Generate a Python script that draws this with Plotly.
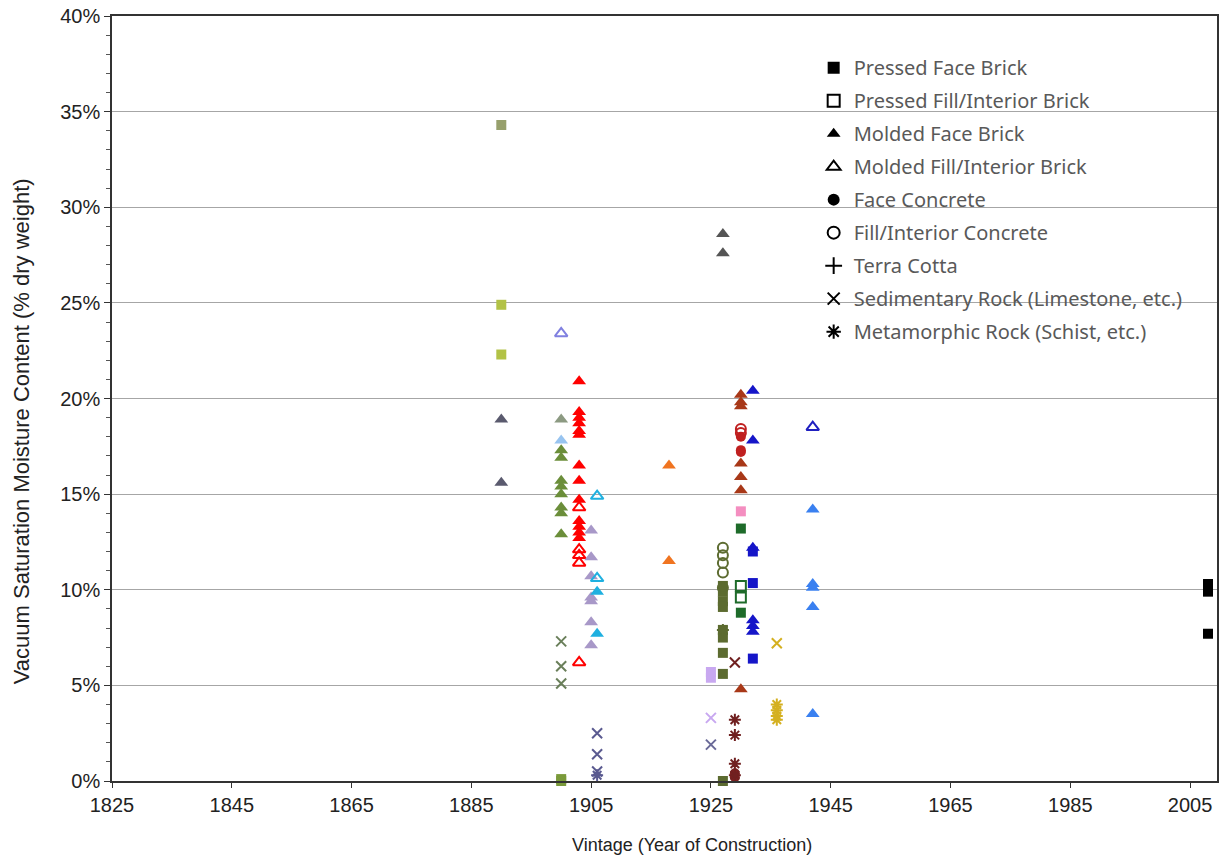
import plotly.graph_objects as go

# ---------------- data (year, value %, colour per point) ----------------
pressed_face_year = [1890, 1890, 1890, 1900, 1900,
                     1927, 1927, 1927, 1927, 1927, 1927, 1927, 1927, 1927,
                     1925, 1925, 1930, 1930, 1930, 1932, 1932, 1932, 2008, 2008, 2008]
pressed_face_val = [34.3, 24.9, 22.3, 0.0, 0.1,
                    10.2, 9.9, 9.4, 9.1, 7.9, 7.5, 6.7, 5.6, 0.0,
                    5.4, 5.7, 14.1, 13.2, 8.8, 12.0, 10.35, 6.4, 10.3, 9.9, 7.7]
pressed_face_color = ["#97a06c", "#b2c246", "#b2c246", "#7a9a3a", "#7a9a3a",
                      "#5c6b30", "#5c6b30", "#5c6b30", "#5c6b30", "#5c6b30", "#5c6b30", "#5c6b30", "#5c6b30", "#5c6b30",
                      "#c8a8f0", "#c8a8f0", "#f48ec0", "#1e6b2a", "#1e6b2a", "#1515c8", "#1515c8", "#1515c8",
                      "#000000", "#000000", "#000000"]

pressed_fill_year = [1930, 1930]
pressed_fill_val = [10.2, 9.6]
pressed_fill_color = ["#1e6b2a", "#1e6b2a"]

molded_face_year = [1890, 1890,
                    1900, 1900, 1900, 1900, 1900, 1900, 1900, 1900, 1900, 1900,
                    1903, 1903, 1903, 1903, 1903, 1903, 1903, 1903, 1903, 1903, 1903, 1903, 1903,
                    1905, 1905, 1905, 1905, 1905, 1905, 1905,
                    1906, 1906, 1918, 1918, 1927, 1927,
                    1930, 1930, 1930, 1930, 1930, 1930, 1930,
                    1932, 1932, 1932, 1932, 1932, 1932,
                    1942, 1942, 1942, 1942, 1942]
molded_face_val = [18.9, 15.6,
                   18.9, 17.8, 17.3, 16.9, 15.7, 15.4, 15.0, 14.3, 14.0, 12.9,
                   20.9, 19.3, 19.0, 18.7, 18.3, 18.1, 16.5, 15.7, 14.7, 13.6, 13.3, 13.0, 12.7,
                   13.1, 11.7, 10.7, 9.6, 9.4, 8.3, 7.1,
                   9.9, 7.7, 16.5, 11.5, 28.6, 27.6,
                   20.2, 19.8, 19.6, 16.6, 15.9, 15.2, 4.8,
                   20.4, 17.8, 12.2, 8.4, 8.1, 7.8,
                   14.2, 10.3, 10.1, 9.1, 3.5]
molded_face_color = (["#5a5a6e"] * 2
                     + ["#8c9a82", "#98c4f0"] + ["#6b8e3a"] * 8
                     + ["#ff0000"] * 13
                     + ["#a898c8"] * 7
                     + ["#1fb0e0"] * 2 + ["#f07420"] * 2 + ["#555555"] * 2
                     + ["#a83818"] * 7
                     + ["#1515c8"] * 6
                     + ["#3a80f0"] * 5)

molded_fill_year = [1900, 1903, 1903, 1903, 1903, 1903, 1906, 1906, 1942]
molded_fill_val = [23.4, 14.3, 12.1, 11.8, 11.4, 6.2, 14.9, 10.6, 18.5]
molded_fill_color = ["#8080e0", "#ff0000", "#ff0000", "#ff0000", "#ff0000", "#ff0000",
                     "#1fb0e0", "#1fb0e0", "#2020c0"]

face_concrete_year = [1930, 1930, 1930, 1929, 1929]
face_concrete_val = [18.0, 17.3, 17.2, 0.4, 0.2]
face_concrete_color = ["#c02020", "#c02020", "#c02020", "#7a2020", "#7a2020"]

fill_concrete_year = [1927, 1927, 1927, 1927, 1927, 1930, 1930]
fill_concrete_val = [12.2, 11.8, 11.4, 10.9, 10.1, 18.4, 18.2]
fill_concrete_color = ["#5c6b30"] * 5 + ["#c02020"] * 2

terra_cotta_year = []
terra_cotta_val = []
terra_cotta_color = []

sedimentary_year = [1900, 1900, 1900, 1906, 1906, 1906, 1925, 1925, 1929, 1936]
sedimentary_val = [7.3, 6.0, 5.1, 2.5, 1.4, 0.5, 3.3, 1.9, 6.2, 7.2]
sedimentary_color = ["#6a7f5a", "#6a7f5a", "#6a7f5a", "#5a5a90", "#5a5a90", "#5a5a90",
                     "#c8a8f0", "#6a6a98", "#702020", "#d4b020"]

metamorphic_year = [1906, 1927, 1929, 1929, 1929, 1929, 1936, 1936, 1936, 1936]
metamorphic_val = [0.3, 7.9, 3.2, 2.4, 0.9, 0.3, 4.0, 3.7, 3.4, 3.2]
metamorphic_color = ["#5a5a90", "#5c6b30", "#702020", "#702020", "#702020", "#702020",
                     "#d4b020", "#d4b020", "#d4b020", "#d4b020"]

legend_names = ["Pressed Face Brick", "Pressed Fill/Interior Brick", "Molded Face Brick",
                "Molded Fill/Interior Brick", "Face Concrete", "Fill/Interior Concrete",
                "Terra Cotta", "Sedimentary Rock (Limestone, etc.)", "Metamorphic Rock (Schist, etc.)"]

x_ticks = [1825, 1845, 1865, 1885, 1905, 1925, 1945, 1965, 1985, 2005]
y_ticks = [0, 5, 10, 15, 20, 25, 30, 35, 40]
y_tick_labels = ["0%", "5%", "10%", "15%", "20%", "25%", "30%", "35%", "40%"]

x_title = "Vintage (Year of Construction)"
y_title = "Vacuum Saturation Moisture Content (% dry weight)"

# ---------------- figure ----------------
series = [
    (pressed_face_year, pressed_face_val, pressed_face_color, "square", 10, False),
    (pressed_fill_year, pressed_fill_val, pressed_fill_color, "square-open", 10, True),
    (molded_face_year, molded_face_val, molded_face_color, "triangle-up", 12, False),
    (molded_fill_year, molded_fill_val, molded_fill_color, "triangle-up-open", 11, True),
    (face_concrete_year, face_concrete_val, face_concrete_color, "circle", 10, False),
    (fill_concrete_year, fill_concrete_val, fill_concrete_color, "circle-open", 10, True),
    (terra_cotta_year, terra_cotta_val, terra_cotta_color, "cross-thin-open", 11, True),
    (sedimentary_year, sedimentary_val, sedimentary_color, "x-thin-open", 10, True),
    (metamorphic_year, metamorphic_val, metamorphic_color, "asterisk-open", 10, True),
]

fig = go.Figure()
for (xs, ys, cs, sym, sz, is_open) in series:
    if not xs:
        continue
    marker = dict(symbol=sym, size=sz, color=cs)
    if is_open:
        marker["line"] = dict(color=cs, width=2)
    else:
        marker["line"] = dict(width=0)
    fig.add_trace(go.Scatter(x=xs, y=ys, mode="markers", marker=marker,
                             showlegend=False, cliponaxis=False, hoverinfo="x+y"))

for i, ((xs, ys, cs, sym, sz, is_open), name) in enumerate(zip(series, legend_names)):
    m = dict(symbol=sym, size=11, color="black")
    m["line"] = dict(color="black", width=1.5 if is_open else 0)
    fig.add_trace(go.Scatter(x=[None], y=[None], mode="markers", marker=m, name=name,
                             legendgroup="g%d" % i, showlegend=True))

tick_font = dict(family="Liberation Sans, Arial, sans-serif", size=20, color="#222222")

fig.update_layout(
    width=1221, height=859,
    margin=dict(l=112, r=2, t=16, b=78),
    paper_bgcolor="white", plot_bgcolor="white",
    font=dict(family="Liberation Sans, Arial, sans-serif", size=19, color="#222222"),
    legend=dict(x=0.635, y=0.958, xanchor="left", yanchor="top",
                font=dict(family="Noto Sans, sans-serif", size=20, color="#595959"),
                tracegroupgap=4, bgcolor="rgba(255,255,255,0)", borderwidth=0,
                itemsizing="constant"),
    xaxis=dict(range=[1825, 2009.5], tickvals=x_ticks, showgrid=False, zeroline=False,
               showline=True, linecolor="#333333", linewidth=1.5, mirror=True,
               ticks="outside", ticklen=5, tickcolor="#333333", tickfont=tick_font),
    yaxis=dict(range=[0, 40], tickvals=y_ticks, ticktext=y_tick_labels,
               showgrid=True, gridcolor="#a6a6a6", gridwidth=1, zeroline=False,
               showline=True, linecolor="#333333", linewidth=1.5, mirror=True,
               ticks="outside", ticklen=6, tickcolor="#333333", tickfont=tick_font,
               minor=dict(dtick=1, ticks="outside", ticklen=4, tickcolor="#555555", showgrid=False)),
    annotations=[
        dict(text=x_title, xref="paper", yref="paper", x=0.525, y=-0.0837,
             xanchor="center", yanchor="middle", showarrow=False,
             font=dict(family="Liberation Sans, Arial, sans-serif", size=18, color="#222222")),
        dict(text=y_title, xref="paper", yref="paper", x=-0.0822, y=0.4575, textangle=-90,
             xanchor="center", yanchor="middle", showarrow=False,
             font=dict(family="Liberation Sans, Arial, sans-serif", size=22, color="#222222")),
    ],
)

fig.write_html("out.html")
